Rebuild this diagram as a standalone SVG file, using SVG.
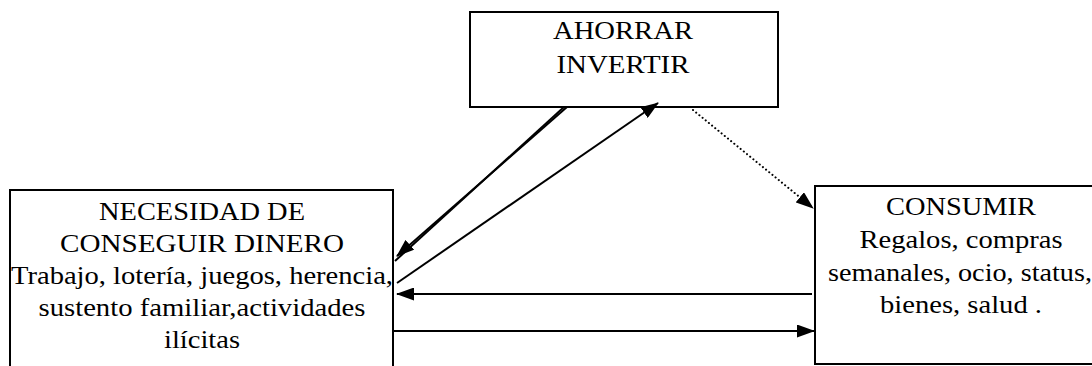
<svg xmlns="http://www.w3.org/2000/svg" width="1092" height="366" viewBox="0 0 1092 366">
<style>
.box{fill:#fff;stroke:#000;stroke-width:2}
.t{font-family:"Liberation Serif","DejaVu Serif",serif;font-size:26px;fill:#000;text-anchor:middle}
.c{stroke:#000;stroke-width:2;fill:none}
</style>
<defs>
<marker id="ah" markerUnits="userSpaceOnUse" markerWidth="18" markerHeight="13" refX="17" refY="6.5" orient="auto">
<path d="M0,0 L18,6.5 L0,13 Z" fill="#000"/>
</marker>
</defs>
<rect width="1092" height="366" fill="#fff"/>
<g id="ahorrar">
<rect class="box" x="470" y="12" width="308" height="95"/>
<text class="t" x="623" y="39" textLength="140" lengthAdjust="spacingAndGlyphs">AHORRAR</text>
<text class="t" x="623" y="73" textLength="133" lengthAdjust="spacingAndGlyphs">INVERTIR</text>
</g>
<g id="necesidad">
<rect class="box" x="10" y="190" width="383" height="200"/>
<text class="t" x="202" y="220" textLength="206" lengthAdjust="spacingAndGlyphs">NECESIDAD DE</text>
<text class="t" x="202" y="252" textLength="284" lengthAdjust="spacingAndGlyphs">CONSEGUIR DINERO</text>
<text class="t" x="202" y="284" textLength="382" lengthAdjust="spacingAndGlyphs">Trabajo, lotería, juegos, herencia,</text>
<text class="t" x="202" y="316" textLength="327" lengthAdjust="spacingAndGlyphs">sustento familiar,actividades</text>
<text class="t" x="202" y="348" textLength="76" lengthAdjust="spacingAndGlyphs">ilícitas</text>
</g>
<g id="consumir">
<rect class="box" x="815" y="186" width="300" height="178"/>
<text class="t" x="961" y="215" textLength="150" lengthAdjust="spacingAndGlyphs">CONSUMIR</text>
<text class="t" x="961" y="248" textLength="203" lengthAdjust="spacingAndGlyphs">Regalos, compras</text>
<text class="t" x="960" y="281" textLength="264" lengthAdjust="spacingAndGlyphs">semanales, ocio, status,</text>
<text class="t" x="961" y="313" textLength="162" lengthAdjust="spacingAndGlyphs">bienes, salud .</text>
</g>
<g id="connectors">
<line class="c" x1="567" y1="107" x2="397" y2="256" marker-end="url(#ah)"/>
<line class="c" x1="564" y1="107" x2="395" y2="261"/>
<line class="c" x1="397" y1="283" x2="658" y2="103" marker-end="url(#ah)"/>
<line class="c" x1="693" y1="110" x2="813" y2="208" stroke-width="2.4" stroke-dasharray="0.1 4" stroke-linecap="round" marker-end="url(#ah)"/>
<line class="c" x1="812" y1="294" x2="397" y2="294" marker-end="url(#ah)"/>
<line class="c" x1="394" y1="331" x2="814" y2="331" stroke-width="3" marker-end="url(#ah)"/>
</g>
</svg>
